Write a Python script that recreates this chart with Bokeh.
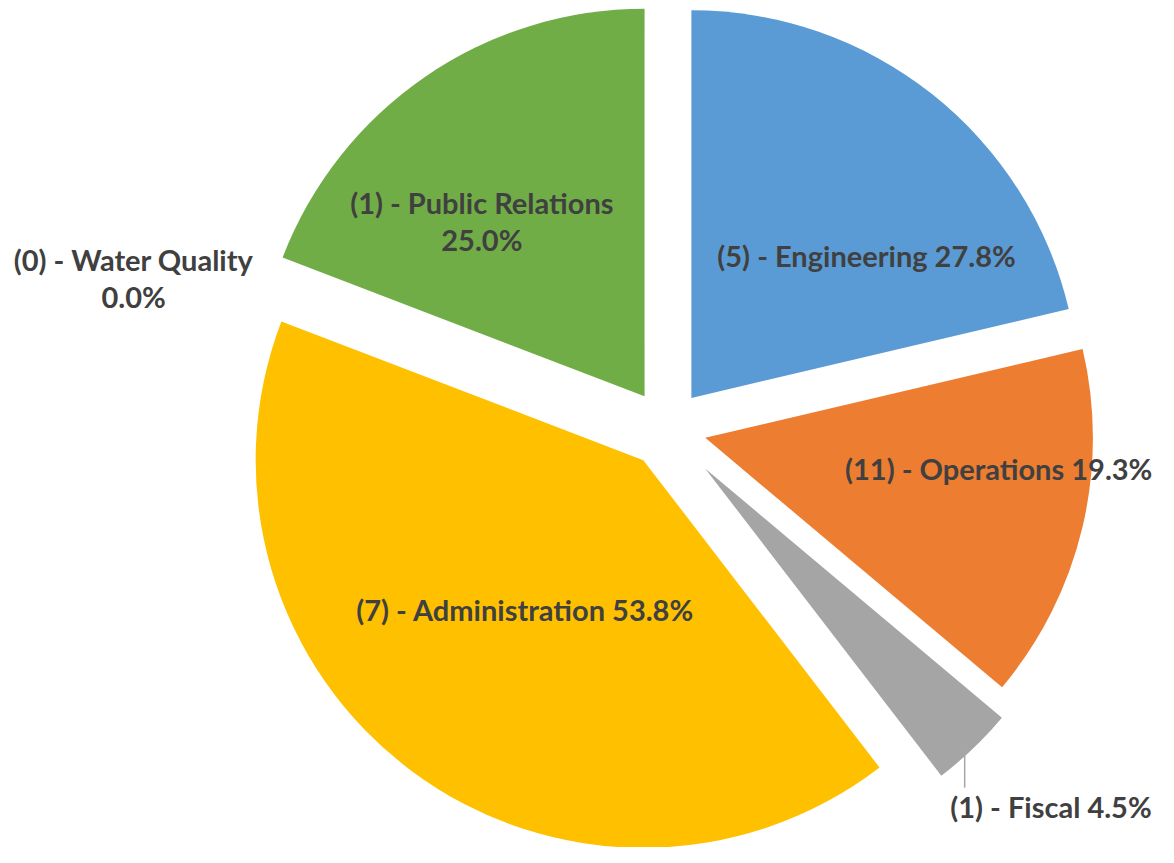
import math
from bokeh.plotting import figure
from bokeh.models import Range1d, ColumnDataSource
from bokeh.core.properties import value
from bokeh.embed import file_html
from bokeh.resources import INLINE

# ---- data ----
categories = ["Engineering", "Operations", "Fiscal", "Administration", "Water Quality", "Public Relations"]
counts = [5, 11, 1, 7, 0, 1]
percents = [27.8, 19.3, 4.5, 53.8, 0.0, 25.0]

# ---- style ----
colors = ["#5B9BD5", "#ED7D31", "#A5A5A5", "#FFC000", "#7F7F7F", "#70AD47"]
explode = [40, 40, 56, 40, 40, 40]
wrap = [False, False, False, False, True, True]
label_pos = [(878, 260), (1012, 477), (1065, 821), (532, 621), (135, 264), (488, 206)]
line_gap = 38
R = 393
CX, CY_SCREEN = 675.6, 436.3
W_REF, H_REF = 1174, 863
FONT = "Lato"
FSIZE = "29px"
TXT = "#404040"

W_PX, H_PX = 1158, 847
p = figure(width=W_PX, height=H_PX, output_backend="svg", toolbar_location=None,
           x_range=Range1d(0, W_REF), y_range=Range1d(0, H_REF),
           min_border=0)
p.axis.visible = False
p.grid.visible = False
p.outline_line_color = None
p.background_fill_color = "white"
p.border_fill_color = "white"

total = sum(percents)
cy = H_REF - CY_SCREEN
xs, ys, starts, ends, cols = [], [], [], [], []
acc = 0.0
for v, c, d in zip(percents, colors, explode):
    a0 = acc / total * 2 * math.pi
    acc += v
    a1 = acc / total * 2 * math.pi
    if v <= 0:
        continue
    mid = (a0 + a1) / 2
    xs.append(CX + d * math.sin(mid))
    ys.append(cy + d * math.cos(mid))
    starts.append(math.pi / 2 - a0)
    ends.append(math.pi / 2 - a1)
    cols.append(c)

src = ColumnDataSource(dict(x=xs, y=ys, start=starts, end=ends, color=cols))
p.wedge(x="x", y="y", radius=R, start_angle="start", end_angle="end",
        direction="clock", fill_color="color", line_color=None, source=src)

# leader line for Fiscal
fx = 977.5
p.line(x=[fx, fx], y=[H_REF - 752, H_REF - 802], line_color="#A6A6A6", line_width=1.5)

tx, ty, tt = [], [], []
for name, n, pct, wr, (lx, ly) in zip(categories, counts, percents, wrap, label_pos):
    if wr:
        tx += [lx, lx]
        ty += [H_REF - ly, H_REF - ly - line_gap]
        tt += [f"({n}) - {name}", f"{pct:.1f}%"]
    else:
        tx.append(lx)
        ty.append(H_REF - ly)
        tt.append(f"({n}) - {name} {pct:.1f}%")

p.text(x=tx, y=ty, text=tt, text_font=value(FONT), text_font_style="bold",
       text_font_size=FSIZE, text_color=TXT, text_align="center", text_baseline="middle")

open("out.html", "w").write(file_html(p, INLINE))
